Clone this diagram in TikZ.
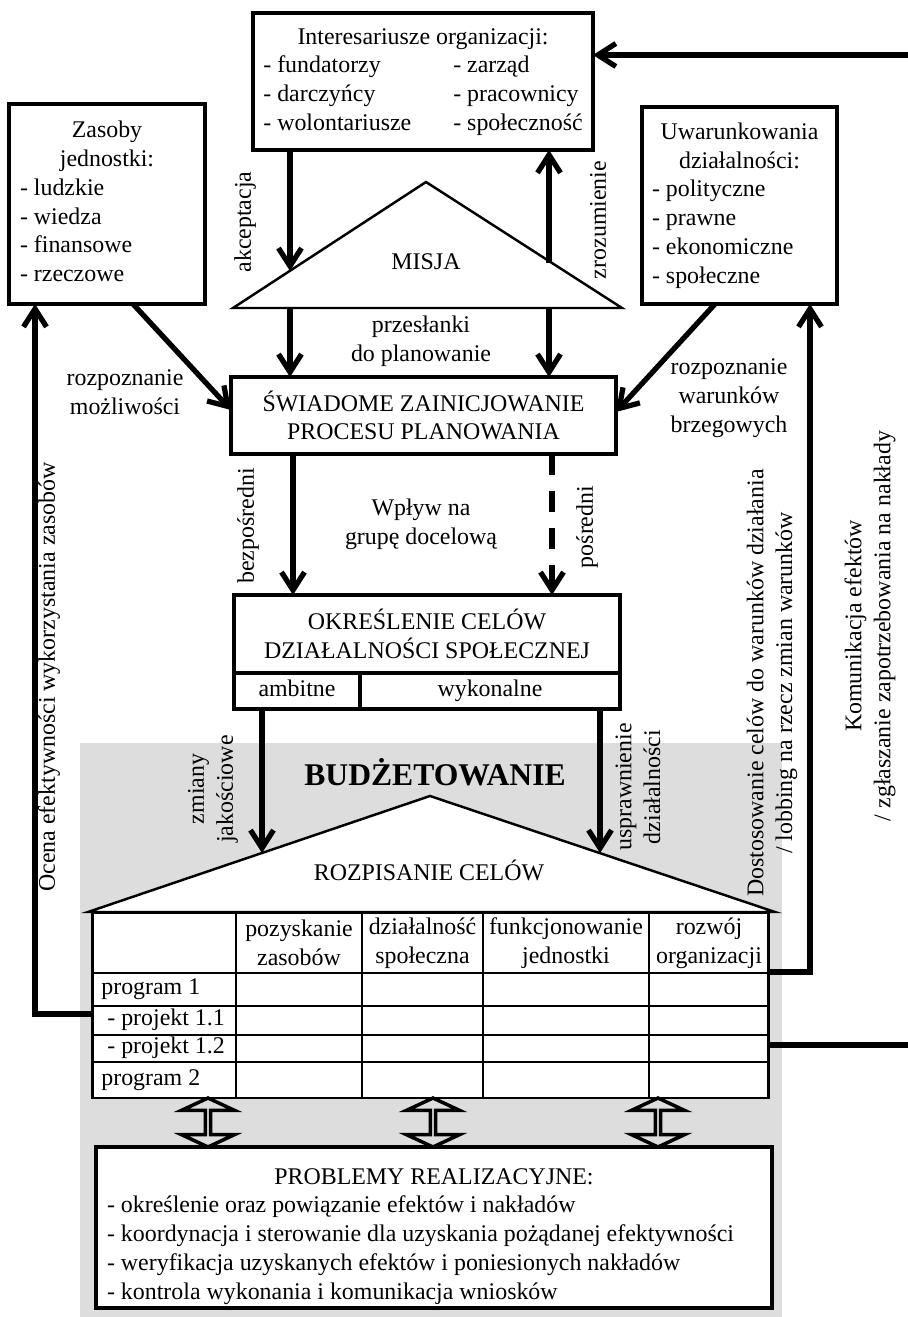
\documentclass[tikz,border=0pt]{standalone}
\usepackage{fontspec}
\setmainfont{Liberation Serif}
\usepackage{xcolor}
\definecolor{budgray}{HTML}{DDDDDD}
\usepackage{tikz}
\usetikzlibrary{arrows.meta,positioning,shapes.arrows,calc}
\tikzset{
  budbox/.style={draw,line width=1.9pt,fill=white,inner sep=0pt,outer sep=0pt,align=center},
  budcell/.style={draw,line width=1.9pt,fill=white,inner sep=0pt,outer sep=0pt,minimum height=0.72cm,text height=9.5pt,text depth=3pt},
  budflow/.style={-{Straight Barb[length=3.6mm,width=4.6mm]},line width=3pt},
  budlabel/.style={align=center,inner sep=0pt},
  budside/.style={align=center,inner sep=0pt,rotate=90},
  budroof/.style={draw,line width=1.4pt,fill=white,line join=miter},
  budgrid/.style={line width=0.9pt},
  budtwin/.style={double arrow,draw,line width=2pt,minimum height=0.98cm,minimum width=1.06cm,double arrow head extend=0.33cm,double arrow tip angle=130,inner sep=0pt,rotate=90},
}

\begin{document}
\begin{tikzpicture}[x=0.02cm,y=-0.02cm,font=\fontsize{13.6}{16.4}\selectfont]
\useasboundingbox (0,0) rectangle (908,1317);
 % budgeting area
\fill[budgray] (80,743) rectangle (782,1317);

 % inputs
\node[budbox,minimum width=6.8cm,minimum height=2.74cm] (stake) at (423,81.5){\begin{tabular}{@{}p{3.8cm}@{}l@{}}\multicolumn{2}{@{}c@{}}{Interesariusze organizacji:}\\- fundatorzy & - zarząd\\- darczyńcy & - pracownicy\\- wolontariusze & - społeczność\end{tabular}};
\node[budbox,minimum width=3.92cm,minimum height=4cm] (zas) at (107,204){\begin{tabular}{@{}p{3.48cm}@{}}\multicolumn{1}{@{}c@{}}{Zasoby}\\\multicolumn{1}{@{}c@{}}{jednostki:}\\- ludzkie\\- wiedza\\- finansowe\\- rzeczowe\end{tabular}};
\node[budbox,minimum width=3.9cm,minimum height=3.94cm] (uwa) at (739.5,205.5){\begin{tabular}{@{}p{3.5cm}@{}}\multicolumn{1}{@{}c@{}}{Uwarunkowania}\\\multicolumn{1}{@{}c@{}}{działalności:}\\- polityczne\\- prawne\\- ekonomiczne\\- społeczne\end{tabular}};

 % mission
\coordinate (misL) at (233,308);
\coordinate (misA) at (426,182);
\coordinate (misR) at (622,308);
\draw[budroof] (misL) -- (misA) -- (misR) -- cycle;
\node[budlabel] (misja) at (426,262){MISJA};

\node[budbox,minimum width=7.7cm,minimum height=1.54cm] (swi) at (423.5,415.5){ŚWIADOME ZAINICJOWANIE\\PROCESU PLANOWANIA};
\node[budbox,minimum width=7.72cm,minimum height=1.56cm] (okr) at (427,634){OKREŚLENIE CELÓW\\DZIAŁALNOŚCI SPOŁECZNEJ};
\node[budcell,minimum width=2.52cm,below right=0pt of okr.south west] (amb){ambitne};
\node[budcell,minimum width=5.2cm,right=0pt of amb] (wyk){wykonalne};

 % budgeting
\node[budlabel,font=\fontsize{18}{21}\selectfont\bfseries] (bud) at (435,772){BUDŻETOWANIE};
\coordinate (rozL) at (88,912);
\coordinate (rozA) at (430,796);
\coordinate (rozR) at (775,912);
\draw[budroof] (rozL) -- (rozA) -- (rozR) -- cycle;
\node[budlabel] (rozp) at (429,870){ROZPISANIE CELÓW};

\node[budbox,line width=1.7pt,minimum width=13.54cm,minimum height=3.72cm] (tab) at (430.5,1005){};
\draw[budgrid] (236,912) -- (236,1098);
\draw[budgrid] (362,912) -- (362,1098);
\draw[budgrid] (483,912) -- (483,1098);
\draw[budgrid] (649,912) -- (649,1098);
\draw[budgrid] (92,973) -- (769,973);
\draw[budgrid] (92,1006) -- (769,1006);
\draw[budgrid] (92,1035) -- (769,1035);
\draw[budgrid] (92,1062) -- (769,1062);
\node[budlabel] (h1) at (299,943){pozyskanie\\zasobów};
\node[budlabel] (h2) at (422.5,943){działalność\\społeczna};
\node[budlabel] (h3) at (566,943){funkcjonowanie\\jednostki};
\node[budlabel] (h4) at (709,943){rozwój\\organizacji};
\node[budlabel,anchor=west] (r1) at (101,989){program 1};
\node[budlabel,anchor=west] (r2) at (107,1020){- projekt 1.1};
\node[budlabel,anchor=west] (r3) at (107,1048){- projekt 1.2};
\node[budlabel,anchor=west] (r4) at (101,1080){program 2};

\node[budbox,minimum width=13.52cm,minimum height=3.22cm] (prob) at (434,1227.5){\begin{tabular}{@{}p{13.08cm}@{}}\multicolumn{1}{@{}c@{}}{\rule{0pt}{21pt}PROBLEMY REALIZACYJNE:}\\- określenie oraz powiązanie efektów i nakładów\\- koordynacja i sterowanie dla uzyskania pożądanej efektywności\\- weryfikacja uzyskanych efektów i poniesionych nakładów\\- kontrola wykonania i komunikacja wniosków\end{tabular}};
\node[budtwin] (tw1) at (208,1122.5){};
\node[budtwin] (tw2) at (433,1122.5){};
\node[budtwin] (tw3) at (658,1122.5){};

 % mission arrows
\coordinate (akT) at (290,271);
\coordinate (zrB) at (549,263);
\draw[budflow] (akT |- stake.south) -- (akT);
\draw[budflow] (zrB) -- (zrB |- stake.south);
\node[budside] (akc) at (245,222){akceptacja};
\node[budside] (zro) at (598,220){zrozumienie};
\draw[budflow] (akT |- misL) -- (akT |- swi.north);
\draw[budflow] (zrB |- misR) -- (zrB |- swi.north);
\node[budlabel] (prz) at (421,341){przesłanki\\do planowanie};

 % side inputs
\draw[budflow] ([xshift=0.52cm]zas.south) -- ([yshift=0.11cm]swi.west);
\draw[budflow] ([xshift=-0.49cm]uwa.south) -- ([yshift=0.07cm]swi.east);
\node[budlabel] (rmo) at (125,392){rozpoznanie\\możliwości};
\node[budlabel] (rwa) at (729,398){rozpoznanie\\warunków\\brzegowych};

 % target group
\coordinate (bez) at (293,520);
\coordinate (pos) at (552,520);
\draw[budflow] (bez |- swi.south) -- (bez |- okr.north);
\draw[budflow,dash pattern=on 12pt off 9pt] (pos |- swi.south) -- (pos |- okr.north);
\node[budside] (bzp) at (248,526){bezpośredni};
\node[budside] (psr) at (587,527){pośredni};
\node[budlabel] (wpl) at (421,524){Wpływ na\\grupę docelową};

\coordinate (zmT) at (262,853);
\coordinate (usT) at (600,853);
\draw[budflow] (zmT |- amb.south) -- (zmT);
\draw[budflow] (usT |- wyk.south) -- (usT);
\node[budside] (zmi) at (213,789){zmiany\\jakościowe};
\node[budside] (usp) at (638,787){usprawnienie\\działalności};

 % feedback
\coordinate (ocB) at (35,1014);
\draw[budflow] (ocB -| tab.west) -- (ocB) -- (ocB |- zas.south);
\node[budside] (oce) at (49,677){Ocena efektywności wykorzystania zasobów};
\coordinate (dosB) at (810,972);
\draw[budflow] (dosB -| tab.east) -- (dosB) -- (dosB |- uwa.south);
\node[budside] (dos) at (772,683){Dostosowanie celów do warunków działania\\/ lobbing na rzecz zmian warunków};
\coordinate (komOut) at (908,1045);
\coordinate (komIn) at (908,55);
\draw[line width=3pt] (komOut -| tab.east) -- (komOut);
\draw[budflow] (komIn) -- (komIn -| stake.east);
\node[budside] (kom) at (870,626){Komunikacja efektów\\/ zgłaszanie zapotrzebowania na nakłady};
\end{tikzpicture}
\end{document}
